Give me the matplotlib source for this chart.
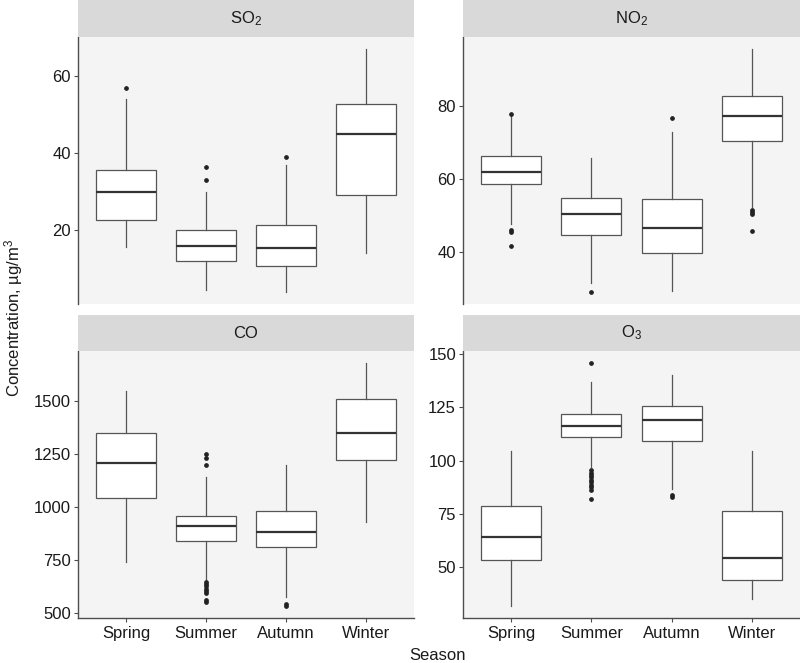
import matplotlib
matplotlib.use("Agg")
from matplotlib import pyplot as plt

plt.rcParams['font.family'] = ['Liberation Sans', 'DejaVu Sans']
plt.rcParams['mathtext.fontset'] = 'custom'
plt.rcParams['mathtext.rm'] = 'Liberation Sans'
plt.rcParams['mathtext.it'] = 'Liberation Sans'

seasons = ["Spring", "Summer", "Autumn", "Winter"]

# SO2
so2_q1 = [22.6, 11.9, 10.7, 29.0]
so2_med = [29.8, 15.8, 15.4, 45.0]
so2_q3 = [35.7, 20.0, 21.4, 52.8]
so2_lo = [15.7, 4.3, 3.9, 14.1]
so2_hi = [54.1, 29.9, 37.0, 67.1]
so2_out = [[56.9], [33.0, 36.4], [39.1], []]

# NO2
no2_q1 = [58.7, 44.6, 39.9, 70.5]
no2_med = [62.0, 50.4, 46.5, 77.4]
no2_q3 = [66.3, 54.8, 54.5, 82.9]
no2_lo = [47.7, 31.4, 29.3, 52.4]
no2_hi = [77.3, 65.9, 72.9, 95.7]
no2_out = [[77.8, 46.0, 45.4, 41.6], [29.1], [76.9], [51.6, 51.1, 50.6, 45.7]]

# CO
co_q1 = [1042, 841, 811, 1221]
co_med = [1210, 911, 882, 1350]
co_q3 = [1349, 959, 982, 1509]
co_lo = [742, 655, 577, 930]
co_hi = [1549, 1141, 1199, 1680]
co_out = [[], [1250, 1232, 1200, 645, 635, 625, 615, 605, 592, 562, 550], [540, 533], []]

# O3
o3_q1 = [53.2, 111.2, 109.4, 43.6]
o3_med = [64.0, 116.2, 118.9, 54.2]
o3_q3 = [78.6, 121.7, 125.5, 76.3]
o3_lo = [31.5, 97.0, 86.5, 34.6]
o3_hi = [104.7, 137.0, 140.4, 104.7]
o3_out = [[], [145.9, 95.3, 94.2, 93.1, 92.0, 90.8, 89.7, 88.5, 87.3, 86.2, 82.1], [83.6, 82.9], []]

panels = [
    ("SO$_2$", so2_q1, so2_med, so2_q3, so2_lo, so2_hi, so2_out, [20, 40, 60]),
    ("NO$_2$", no2_q1, no2_med, no2_q3, no2_lo, no2_hi, no2_out, [40, 60, 80]),
    ("CO", co_q1, co_med, co_q3, co_lo, co_hi, co_out, [500, 750, 1000, 1250, 1500]),
    ("O$_3$", o3_q1, o3_med, o3_q3, o3_lo, o3_hi, o3_out, [50, 75, 100, 125, 150]),
]

W, H = 800, 663
fig = plt.figure(figsize=(W / 100, H / 100), dpi=100)

# pixel boxes: columns (x0, x1), rows (strip top, panel top, panel bottom)
cols = [(78, 414), (463, 800)]
rows = [(0, 37, 304), (315, 351, 618)]

edge = "#555555"
axis_col = "#4d4d4d"
fs = 12

for i, (name, q1, med, q3, lo, hi, out, yt) in enumerate(panels):
    r, c = divmod(i, 2)
    x0, x1 = cols[c]
    st, pt, pb = rows[r]
    ax = fig.add_axes([x0 / W, 1 - pb / H, (x1 - x0) / W, (pb - pt) / H])
    sax = fig.add_axes([x0 / W, 1 - pt / H, (x1 - x0) / W, (pt - st) / H])
    sax.set_facecolor("#d9d9d9")
    sax.set_xticks([])
    sax.set_yticks([])
    for s in sax.spines.values():
        s.set_visible(False)
    sax.text(0.5, 0.5, name, ha="center", va="center", fontsize=fs,
             color="#1a1a1a", transform=sax.transAxes)

    stats = []
    for k in range(4):
        stats.append(dict(q1=q1[k], med=med[k], q3=q3[k], whislo=lo[k],
                          whishi=hi[k], fliers=out[k], label=seasons[k]))
    ax.bxp(stats, positions=[1, 2, 3, 4], widths=0.75, patch_artist=True,
           showcaps=False,
           boxprops=dict(facecolor="white", edgecolor=edge, linewidth=0.9),
           whiskerprops=dict(color=edge, linewidth=0.9),
           medianprops=dict(color="#333333", linewidth=1.6),
           flierprops=dict(marker="o", markerfacecolor="#222222",
                           markeredgecolor="#222222", markersize=2.4))

    allv = lo + hi + [v for o in out for v in o]
    vmin, vmax = min(allv), max(allv)
    pad = (vmax - vmin) * 0.05
    ax.set_ylim(vmin - pad, vmax + pad)
    ax.set_xlim(0.4, 4.6)
    ax.set_yticks(yt)
    ax.set_facecolor("#f4f4f4")
    for s in ["top", "right"]:
        ax.spines[s].set_visible(False)
    ax.spines["left"].set_color(axis_col)
    ax.spines["left"].set_linewidth(1.0)
    ax.tick_params(axis="y", length=3, color=axis_col, labelsize=fs,
                   labelcolor="#1a1a1a", pad=2)
    if r == 0:
        ax.spines["bottom"].set_visible(False)
        ax.set_xticks([])
    else:
        ax.spines["bottom"].set_color(axis_col)
        ax.spines["bottom"].set_linewidth(1.0)
        ax.set_xticks([1, 2, 3, 4])
        ax.set_xticklabels(seasons)
        ax.tick_params(axis="x", length=3, color=axis_col, labelsize=fs,
                       labelcolor="#1a1a1a", pad=3)

fig.text(438 / W, 1 - 655 / H, "Season", ha="center", va="center",
         fontsize=fs, color="#1a1a1a")
fig.text(14 / W, 1 - 318 / H, "Concentration, µg/m$^3$", ha="center",
         va="center", rotation=90, fontsize=fs, color="#1a1a1a")

fig.savefig("out.png", dpi=100)
